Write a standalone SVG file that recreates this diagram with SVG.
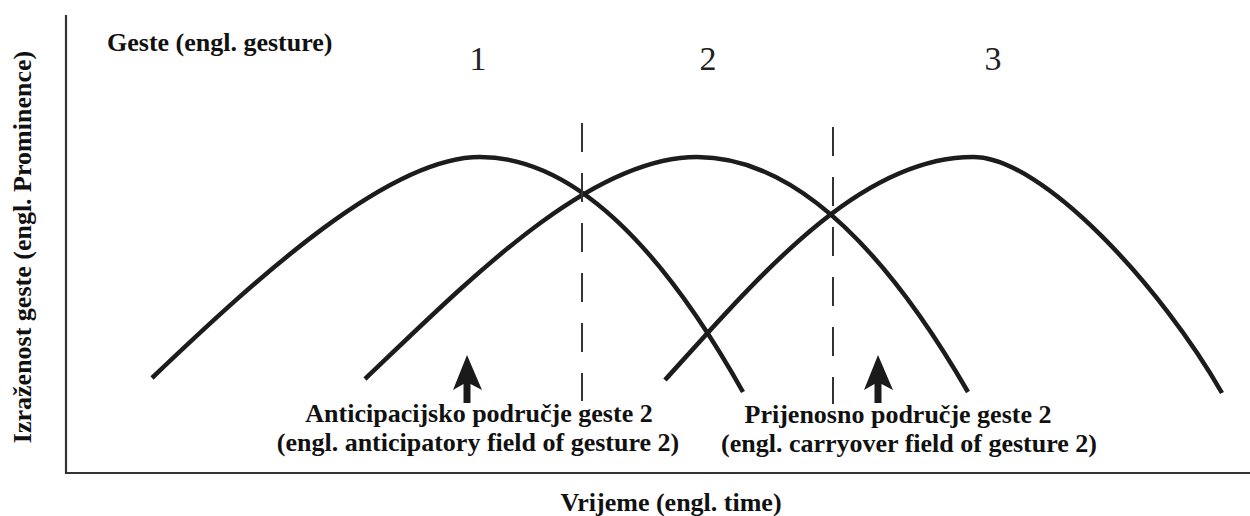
<svg xmlns="http://www.w3.org/2000/svg" width="1250" height="516" viewBox="0 0 1250 516">
<defs>
<style>
.lbl{font-family:"Liberation Serif","Times New Roman",serif;font-weight:bold;font-size:26px;fill:#111;}
.num{font-family:"Liberation Serif","Times New Roman",serif;font-size:34px;fill:#222;}
.curve{fill:none;stroke:#1c1c1c;stroke-width:4.5;stroke-linecap:butt;}
.axis{fill:none;stroke:#333;stroke-width:2.2;}
.dash{fill:none;stroke:#333;stroke-width:2;stroke-dasharray:29 21;}
.arrow{fill:#1a1a1a;}
</style>
</defs>
<rect width="1250" height="516" fill="#fff"/>
<g id="axes">
<path class="axis" d="M66,15 V473 H1250"/>
</g>
<g id="axis-labels">
<text class="lbl" x="671" y="511" text-anchor="middle">Vrijeme (engl. time)</text>
<text class="lbl" transform="translate(31,247) rotate(-90)" text-anchor="middle">Izraženost geste (engl. Prominence)</text>
<text class="lbl" x="107" y="51">Geste (engl. gesture)</text>
</g>
<g id="gesture-1">
<path class="curve" d="M152,378 C262,273 390,157 480,157 Q611,157 743,392"/>
<text class="num" x="478" y="70" text-anchor="middle">1</text>
</g>
<g id="gesture-2">
<path class="curve" d="M365,379 C470,279 590,157 697,157 Q832,157 968,392"/>
<text class="num" x="708" y="70" text-anchor="middle">2</text>
</g>
<g id="gesture-3">
<path class="curve" d="M665,380 C760,275 860,157 973,157 C1043,157 1162,288 1222,393"/>
<text class="num" x="993" y="70" text-anchor="middle">3</text>
</g>
<g id="connectors">
<line class="dash" x1="582" y1="123" x2="582" y2="401"/>
<line class="dash" x1="833" y1="127" x2="833" y2="404"/>
<path class="arrow" d="M467,355 L482,390 L470.5,384 V403 H463.5 V384 L453,390 Z"/>
<path class="arrow" d="M878,355 L893,390 L881.5,384 V403 H874.5 V384 L864,390 Z"/>
</g>
<g id="anticipatory-label">
<text class="lbl" x="479" y="422" text-anchor="middle">Anticipacijsko područje geste 2</text>
<text class="lbl" x="478" y="451" text-anchor="middle">(engl. anticipatory field of gesture 2)</text>
</g>
<g id="carryover-label">
<text class="lbl" x="898" y="423" text-anchor="middle">Prijenosno područje geste 2</text>
<text class="lbl" x="909" y="452" text-anchor="middle">(engl. carryover field of gesture 2)</text>
</g>
</svg>
